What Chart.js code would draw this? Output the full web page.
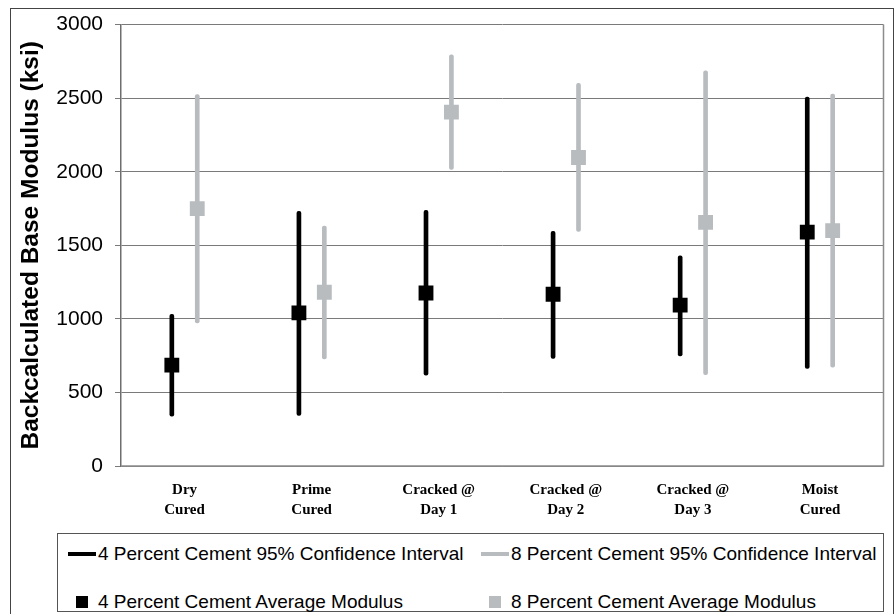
<!DOCTYPE html>
<html lang="en">

<head>
    <meta charset="UTF-8">
    <title>Backcalculated Base Modulus</title>
    <script src="https://cdn.jsdelivr.net/npm/chart.js@4.4.0/dist/chart.umd.min.js"></script>
</head>

<body style="margin: 0; background-color: #ffffff;">
    <div id="frame" style="position: absolute; left: 10px; top: 8px; width: 882px; height: 605px; border: 1px solid #444;"></div>
    <div style="position: absolute; left: 0; top: 0; width: 894px; height: 530px;">
        <canvas id="modulusChart"></canvas>
    </div>

    <div class="legend" style="left: 57px; top: 533px; width: 825px; height: 77px;">
        <div class="item" style="left: 10px; top: 7px;"><span class="line" style="background: #000;"></span>4 Percent Cement 95% Confidence Interval</div>
        <div class="item" style="left: 423px; top: 7px;"><span class="line" style="background: #b8bcbf;"></span>8 Percent Cement 95% Confidence Interval</div>
        <div class="item" style="left: 10px; top: 55px;"><span class="square" style="background: #000;"></span>4 Percent Cement Average Modulus</div>
        <div class="item" style="left: 423px; top: 55px;"><span class="square" style="background: #b8bcbf;"></span>8 Percent Cement Average Modulus</div>
    </div>

    <script>
        // values (ksi)
        const categories = [['Dry', 'Cured'], ['Prime', 'Cured'], ['Cracked @', 'Day 1'], ['Cracked @', 'Day 2'], ['Cracked @', 'Day 3'], ['Moist', 'Cured']];
        const ci4Low = [339, 344, 618, 731, 749, 663];
        const ci4High = [1030, 1731, 1738, 1595, 1428, 2507];
        const avg4 = [686, 1041, 1176, 1167, 1093, 1590];
        const ci8Low = [973, 728, 2016, 1595, 620, 672];
        const ci8High = [2525, 1631, 2794, 2600, 2686, 2527];
        const avg8 = [1749, 1181, 2405, 2097, 1656, 1600];
        const yTicks = [0, 500, 1000, 1500, 2000, 2500, 3000];

        const black = '#000000';
        const grey = '#b8bcbf';

        // 4% sits a little left of each category centre, 8% a little right
        const shift = 0.1;
        const xOf = (i, side) => i + side * shift;

        const plotFrame = {
            id: 'plotFrame',
            afterDraw(chart) {
                const { ctx, chartArea } = chart;
                ctx.save();
                ctx.strokeStyle = '#8c8c8c';
                ctx.lineWidth = 1.5;
                ctx.beginPath();
                ctx.moveTo(chartArea.left, chartArea.bottom);
                ctx.lineTo(chartArea.right, chartArea.bottom);
                ctx.lineTo(chartArea.right, chartArea.top);
                ctx.stroke();
                ctx.restore();
            }
        };

        const intervalStyle = {
            grouped: false,
            barThickness: 4,
            borderRadius: 2,
            borderSkipped: false,
            order: 2
        };

        const markerStyle = {
            type: 'scatter',
            pointStyle: 'rect',
            pointRadius: 10.5,
            pointHoverRadius: 10.5,
            pointBorderWidth: 0,
            order: 1
        };

        new Chart(document.getElementById('modulusChart'), {
            type: 'bar',
            data: {
                datasets: [
                    Object.assign({
                        label: '4 Percent Cement 95% Confidence Interval',
                        data: ci4Low.map((v, i) => ({ x: xOf(i, -1), y: [v, ci4High[i]] })),
                        backgroundColor: black
                    }, intervalStyle),
                    Object.assign({
                        label: '8 Percent Cement 95% Confidence Interval',
                        data: ci8Low.map((v, i) => ({ x: xOf(i, 1), y: [v, ci8High[i]] })),
                        backgroundColor: grey
                    }, intervalStyle),
                    Object.assign({
                        label: '4 Percent Cement Average Modulus',
                        data: avg4.map((v, i) => ({ x: xOf(i, -1), y: v })),
                        pointBackgroundColor: black
                    }, markerStyle),
                    Object.assign({
                        label: '8 Percent Cement Average Modulus',
                        data: avg8.map((v, i) => ({ x: xOf(i, 1), y: v })),
                        pointBackgroundColor: grey
                    }, markerStyle)
                ]
            },
            options: {
                responsive: true,
                maintainAspectRatio: false,
                animation: false,
                layout: {
                    padding: { left: 10, top: 24, right: 4, bottom: 0 }
                },
                plugins: {
                    legend: { display: false },
                    tooltip: { enabled: false }
                },
                scales: {
                    x: {
                        type: 'linear',
                        min: -0.5,
                        max: 5.5,
                        offset: false,
                        afterBuildTicks: (scale) => { scale.ticks = categories.map((c, i) => ({ value: i })); },
                        grid: { display: false, drawTicks: false, offset: false },
                        border: { display: false },
                        ticks: {
                            color: '#000',
                            padding: 14,
                            maxRotation: 0,
                            autoSkip: false,
                            callback: (value) => categories[value],
                            font: { family: '"Liberation Serif", "Times New Roman", serif', size: 15, weight: 'bold', lineHeight: 1.35 }
                        },
                        afterFit: (scale) => { scale.height = 64; }
                    },
                    y: {
                        min: 0,
                        max: 3000,
                        afterBuildTicks: (scale) => { scale.ticks = yTicks.map(v => ({ value: v })); },
                        grid: { color: '#7a7a7a', lineWidth: 1, tickLength: 6 },
                        border: { color: '#6e6e6e', width: 1.5 },
                        ticks: {
                            color: '#000',
                            padding: 12,
                            callback: (value) => String(value),
                            font: { family: '"Liberation Sans", Arial, sans-serif', size: 21 }
                        },
                        title: {
                            display: true,
                            text: 'Backcalculated Base Modulus (ksi)',
                            color: '#000',
                            padding: { top: 7, bottom: 0 },
                            font: { family: '"Liberation Sans", Arial, sans-serif', size: 24.5, weight: 'bold', lineHeight: 1.2 }
                        },
                        afterFit: (scale) => { scale.width = 111; }
                    }
                }
            },
            plugins: [plotFrame]
        });
    </script>
</body>
<style>
    .legend {
        position: absolute;
        border: 1px solid #555;
        background: #fff;
        font-family: "Liberation Sans", Arial, sans-serif;
        font-size: 19px;
        color: #000;
    }

    .item {
        position: absolute;
        height: 26px;
        line-height: 26px;
        padding-left: 30px;
        white-space: nowrap;
    }

    .line {
        position: absolute;
        left: 0;
        top: 11px;
        width: 28px;
        height: 4px;
    }

    .square {
        position: absolute;
        left: 8px;
        top: 7px;
        width: 12px;
        height: 12px;
    }
</style>

</html>
